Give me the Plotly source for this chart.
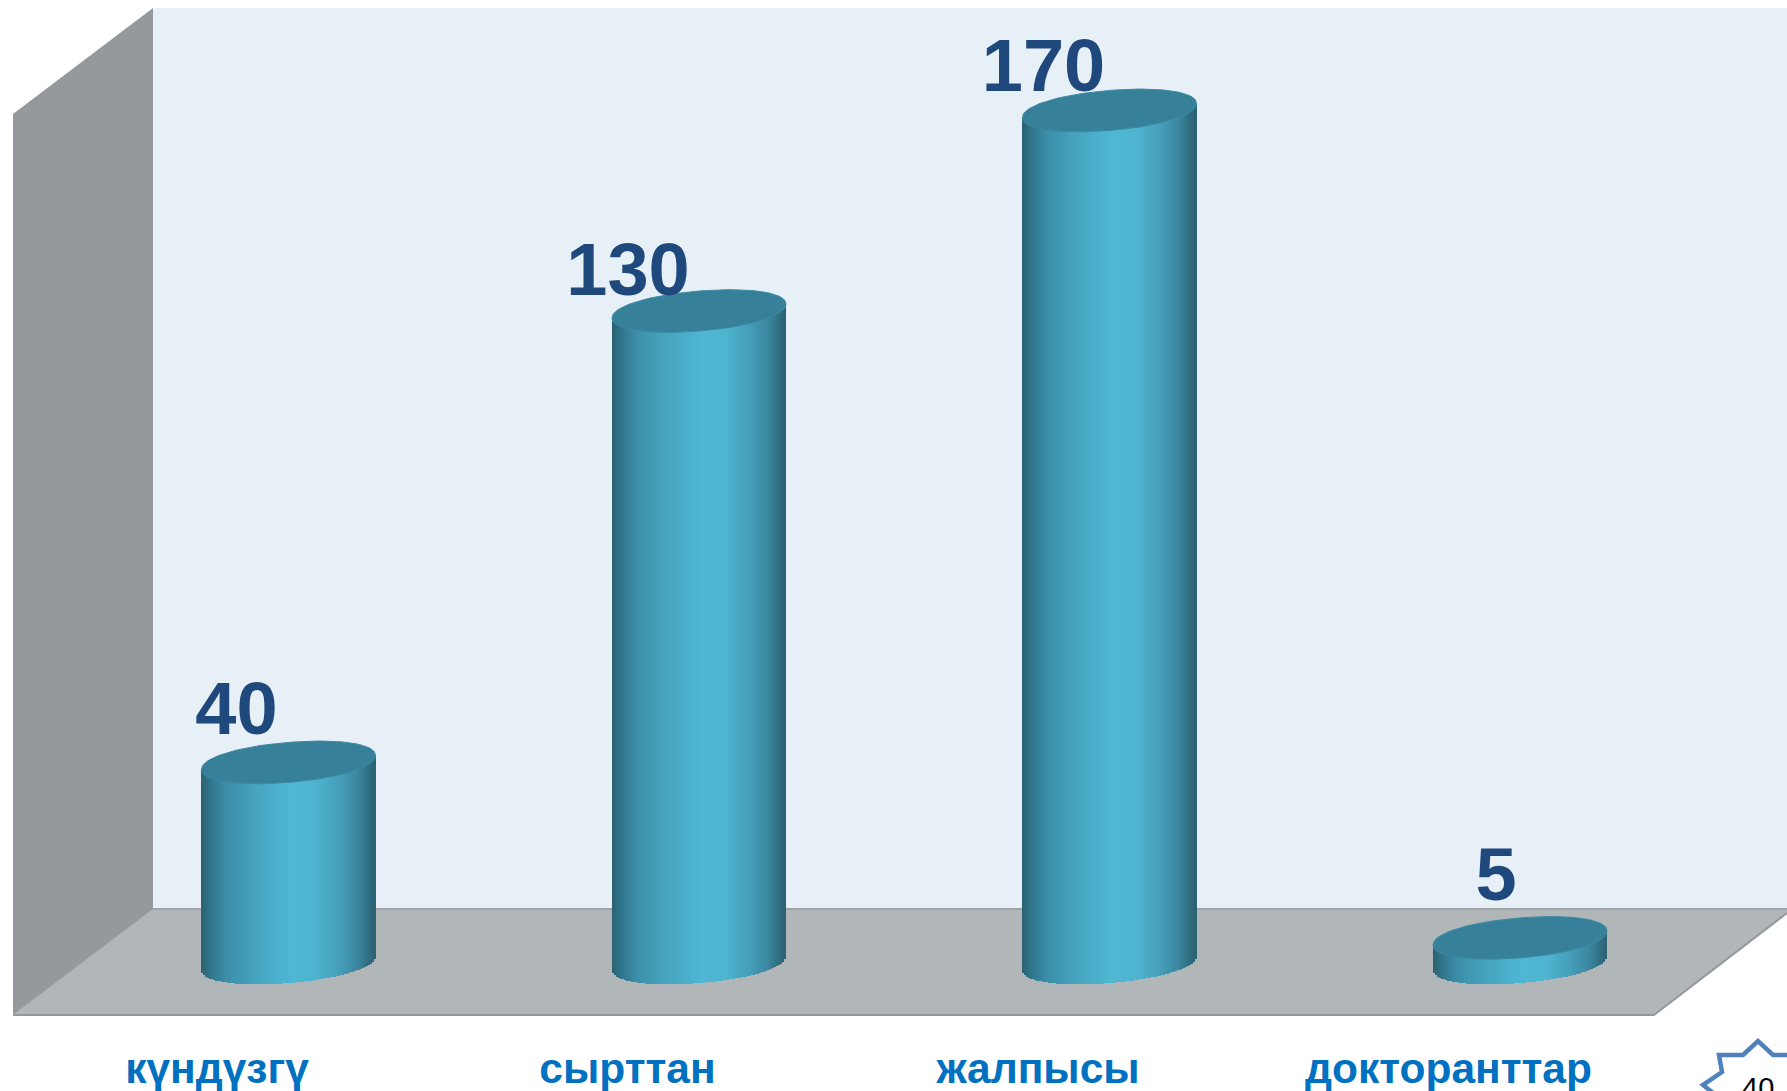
import math
import plotly.graph_objects as go

# ---- data -------------------------------------------------------------
categories = ["күндүзгү", "сырттан", "жалпысы", "докторанттар"]
values = [40, 130, 170, 5]
page_number = "40"

# ---- layout constants (pixels of the 1787x1091 page) ------------------
W, H = 1787, 1091
PLOT_BOTTOM = 1039
SPACING = 410.5          # px between categories
X0_PX = 288.5            # px of first category
BASE_PX = 963            # px of value 0
PX_PER_UNIT = 5.015
A = 87                   # half width of cylinder, px
TILT = 7.0               # vertical rise of the ellipse's right end, px
B = 20.0                 # half height of ellipse at the centre, px
N = 2.1                  # superellipse exponent: slightly rounder than an ellipse
N_STRIPS = 88
LABEL_SHIFT = [(-52, 47), (-71, 35), (-66, 38), (-24, 56)]
TICK_SHIFT = -71.5

xr = [-X0_PX / SPACING, (W - X0_PX) / SPACING]
yr = [(BASE_PX - PLOT_BOTTOM) / PX_PER_UNIT, BASE_PX / PX_PER_UNIT]

STOPS = [(0.0, (42, 96, 113)), (0.05, (47, 116, 138)), (0.14, (60, 141, 168)),
         (0.30, (69, 163, 190)), (0.52, (79, 183, 211)), (0.66, (78, 180, 208)),
         (0.80, (68, 156, 184)), (0.90, (58, 134, 158)), (1.0, (42, 96, 113))]


def shade(u):
    for (p0, c0), (p1, c1) in zip(STOPS, STOPS[1:]):
        if u <= p1:
            f = (u - p0) / (p1 - p0)
            return "rgb(%d,%d,%d)" % tuple(round(a + (b - a) * f) for a, b in zip(c0, c1))
    return "rgb(%d,%d,%d)" % STOPS[-1][1]


def spow(c):
    return math.copysign(abs(c) ** (2 / N), c)


fig = go.Figure()

# real bars, narrower than the cylinder's shaded body that covers them
fig.add_trace(go.Bar(x=list(range(len(values))), y=values, width=0.36,
                     marker=dict(color="#45A3BE", line=dict(width=0)),
                     hoverinfo="skip", showlegend=False))

# shaded cylinder bodies: strips of bars between the front arc and the top
sx, sy, sb, sc = [], [], [], []
for i, v in enumerate(values):
    for k in range(N_STRIPS):
        f = (k + 0.5) / N_STRIPS
        u = 2 * f - 1
        bottom = (TILT * u - B * max(0.0, 1 - abs(u) ** N) ** (1 / N)) / PX_PER_UNIT
        top = v + TILT * u / PX_PER_UNIT
        sx.append(i + u * A / SPACING)
        sb.append(bottom)
        sy.append(top - bottom)
        sc.append(shade(f))
fig.add_trace(go.Bar(x=sx, y=sy, base=sb, width=2.6 * A / N_STRIPS / SPACING,
                     marker=dict(color=sc, line=dict(width=0)),
                     hoverinfo="skip", showlegend=False))

# elliptical tops
for i, v in enumerate(values):
    ts = [2 * math.pi * j / 120 for j in range(121)]
    fig.add_trace(go.Scatter(
        x=[i + A * spow(math.cos(t)) / SPACING for t in ts],
        y=[v + (TILT * spow(math.cos(t)) + B * spow(math.sin(t))) / PX_PER_UNIT for t in ts],
        mode="lines", fill="toself", fillcolor="#37809A",
        line=dict(color="#3D8AA4", width=1), hoverinfo="skip", showlegend=False))

# value labels
fig.add_trace(go.Scatter(
    x=[i + LABEL_SHIFT[i][0] / SPACING for i in range(len(values))],
    y=[v + LABEL_SHIFT[i][1] / PX_PER_UNIT for i, v in enumerate(values)],
    mode="text", text=[str(v) for v in values], textposition="middle center",
    textfont=dict(family="Liberation Sans", size=74, color="#1F497D", weight="bold"),
    hoverinfo="skip", showlegend=False))


def px(x):
    return x / W


def py(y):
    return 1 - y / PLOT_BOTTOM


def poly(points, close=True):
    d = " ".join(("M" if n == 0 else "L") + f"{px(x):.5f},{py(y):.5f}" for n, (x, y) in enumerate(points))
    return d + (" Z" if close else "")


def shape(points, fill=None, line=None, width=0, close=True):
    return dict(type="path", xref="paper", yref="paper", layer="below",
                path=poly(points, close), fillcolor=fill if fill else "rgba(0,0,0,0)",
                line=dict(color=line if line else "rgba(0,0,0,0)", width=width))


shapes = [
    shape([(153, 8), (W, 8), (W, 909), (153, 909)], fill="#E8F0F7"),
    shape([(13, 114), (153, 8), (153, 909), (13, 1015)], fill="#95989C"),
    shape([(13, 1015), (153, 909), (W, 909), (W, 913), (1654, 1015)], fill="#B1B6B9"),
    shape([(153, 909), (W, 909)], line="#A0A3A7", width=2, close=False),
    shape([(13, 1015), (1654, 1015), (W, 913)], line="#96989B", width=2, close=False),
    shape([(13, 1015), (153, 909)], line="#A3A6A9", width=1, close=False),
    shape([(1787, 1055), (1773, 1055), (1758, 1041), (1743, 1055), (1719, 1055),
           (1722, 1072), (1703, 1085), (1717, 1096)], line="#4F81BD", width=4.5, close=False),
]

annotations = [dict(xref="paper", yref="paper", x=px(1758), y=py(1088), text=page_number,
                    showarrow=False, xanchor="center", yanchor="middle",
                    font=dict(family="Liberation Sans", size=29, color="#000000"))]

fig.update_layout(
    width=W, height=H, autosize=False,
    margin=dict(l=0, r=0, t=0, b=H - PLOT_BOTTOM, pad=0),
    paper_bgcolor="#FFFFFF", plot_bgcolor="rgba(0,0,0,0)",
    barmode="overlay", bargap=0, showlegend=False,
    shapes=shapes, annotations=annotations,
    xaxis=dict(range=xr, showgrid=False, zeroline=False, showline=False, ticks="",
               tickmode="array", tickvals=[i + TICK_SHIFT / SPACING for i in range(len(categories))],
               ticktext=categories, tickangle=0, automargin=False,
               tickfont=dict(family="Liberation Sans", size=42.5, color="#0070C0", weight="bold")),
    yaxis=dict(range=yr, visible=False, fixedrange=True),
)

fig.write_html("out.html", config=dict(displayModeBar=False),
               post_script="document.body.style.margin='0';document.body.style.overflow='hidden';")
